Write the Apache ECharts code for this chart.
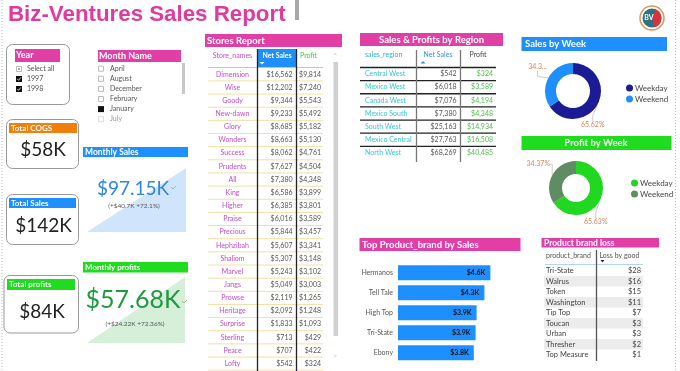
<!DOCTYPE html>
<html>
<head>
<meta charset="utf-8">
<script src="https://cdn.jsdelivr.net/npm/echarts@6/dist/echarts.min.js"></script>
<style>
html, body { margin: 0; padding: 0; background: #fff; }
#main { width: 680px; height: 371px; }
</style>
</head>
<body>
<div id="main"></div>
<script>
// ---- data ----
var years = ['Select all', '1997', '1998'];
var yearState = [2, 1, 1];            // 2 = partial, 1 = checked
var months = ['April', 'August', 'December', 'February', 'January', 'July'];
var monthState = [0, 0, 0, 0, 1, 0];

var totalCogs = 58, totalSales = 142, totalProfit = 84;       // $K
var monthlySales = 97.15, monthlySalesDelta = 40.7, monthlySalesPct = 72.1;
var monthlyProfit = 57.68, monthlyProfitDelta = 24.22, monthlyProfitPct = 72.36;

var storeNames = ['Dimension', 'Wise', 'Goody', 'New-dawn', 'Glory', 'Wonders', 'Success', 'Prudents',
    'All', 'King', 'Higher', 'Praise', 'Precious', 'Hephzibah', 'Shaliom', 'Marvel', 'Jangs',
    'Prowse', 'Heritage', 'Surprise', 'Sterling', 'Peace', 'Lofty'];
var storeSales = [16562, 12202, 9344, 9233, 8685, 8663, 8062, 7627, 7380, 6586, 6385, 6016, 5844,
    5607, 5307, 5243, 5049, 2119, 2092, 1833, 713, 707, 542];
var storeProfit = [9814, 7240, 5543, 5492, 5182, 5130, 4761, 4504, 4348, 3899, 3801, 3589, 3457,
    3341, 3148, 3102, 3003, 1265, 1248, 1093, 429, 422, 324];

var regions = ['Central West', 'Mexico West', 'Canada West', 'Mexico South', 'South West', 'Mexico Central', 'North West'];
var regionSales = [542, 6018, 7076, 7380, 25163, 27763, 68269];
var regionProfit = [324, 3589, 4194, 4348, 14934, 16508, 40485];

var weekNames = ['Weekday', 'Weekend'];
var salesWeek = [65.62, 34.38];
var profitWeek = [65.63, 34.37];

var brands = ['Hermanos', 'Tell Tale', 'High Top', 'Tri-State', 'Ebony'];
var brandSales = [4620, 4320, 3930, 3880, 3790];

var lossBrands = ['Tri-State', 'Walrus', 'Token', 'Washington', 'Tip Top', 'Toucan', 'Urban', 'Thresher', 'Top Measure'];
var lossValues = [28, 16, 15, 11, 7, 3, 3, 2, 1];

// ---- helpers ----
var PINK = '#e23fa6', BLUE = '#1e8fff', GREEN = '#1fdc1f', ORANGE = '#f17f0c';
var salesColors = ['#1b1b93', BLUE];
var profitColors = ['#1fd81f', '#5f8c62'];
var F = 'Lato, "Open Sans", sans-serif';
var g = [];
function rect(x, y, w, h, fill, stroke, r) {
    g.push({ type: 'rect', silent: true, shape: { x: x, y: y, width: w, height: h, r: r || 0 },
        style: { fill: fill || 'none', stroke: stroke || null, lineWidth: 1 } });
}
function txt(x, y, s, size, color, align, weight) {
    g.push({ type: 'text', silent: true, x: x, y: y,
        style: { text: s, font: (weight || 'normal') + ' ' + size + 'px ' + F, fill: color,
            align: align || 'left', verticalAlign: 'middle',
            textAlign: align || 'left', textVerticalAlign: 'middle' } });
}
function line(x1, y1, x2, y2, color, w, dash) {
    g.push({ type: 'line', silent: true, shape: { x1: x1, y1: y1, x2: x2, y2: y2 },
        style: { stroke: color, lineWidth: w || 1, lineDash: dash || null } });
}
function poly(pts, fill) {
    g.push({ type: 'polygon', silent: true, shape: { points: pts }, style: { fill: fill } });
}
function money(n) { return '$' + n.toLocaleString('en-US'); }

// page frame
line(2, 0, 2, 371, '#bbb', 1, [1, 2]);
line(675.5, 0, 675.5, 371, '#bbb', 1, [1, 2]);
g.push({ type: 'text', silent: true, x: 8, y: 14.5,
    style: { text: 'Biz-Ventures Sales Report', font: 'bold 22.3px "Liberation Sans", Arial, sans-serif',
        fill: '#e03a9f', verticalAlign: 'middle', textVerticalAlign: 'middle' } });
rect(295, 0, 4, 20, '#a8a8a8');

// logo
g.push({ type: 'circle', silent: true, shape: { cx: 652, cy: 18, r: 12 }, style: { fill: '#fff', stroke: '#e0955a', lineWidth: 1.5 } });
g.push({ type: 'circle', silent: true, shape: { cx: 652, cy: 18, r: 9.5 }, style: { fill: '#2b7383' } });
g.push({ type: 'sector', silent: true, shape: { cx: 652, cy: 18, r: 9.5, startAngle: -1.2, endAngle: 1.3 }, style: { fill: '#d8333a' } });
txt(649, 18, 'BV', 7, '#fff', 'center', 'bold');

// year slicer
rect(6.5, 44.5, 63, 60, '#fff', '#999', 6);
rect(15, 49, 45, 13, PINK);
txt(16, 55.5, 'Year', 9, '#fff', 'left', 'bold');
years.forEach(function (y, i) {
    var cy = 69 + i * 10;
    if (yearState[i] === 2) {
        rect(16.5, cy - 2.5, 5, 5, '#fff', '#bbb');
        rect(18, cy - 1, 2, 2, '#aaa');
    } else {
        rect(16, cy - 3, 6, 6, '#111');
        g.push({ type: 'polyline', silent: true, shape: { points: [[17.3, cy], [18.6, cy + 1.3], [20.8, cy - 1.5]] }, style: { stroke: '#fff', lineWidth: 0.8 } });
    }
    txt(27, cy, y, 7, '#555');
});

// month slicer
rect(98, 50, 83, 12, PINK);
txt(99, 56, 'Month Name', 9, '#fff', 'left', 'bold');
rect(182, 63, 3, 31, '#c8c8c8');
months.forEach(function (m, i) {
    var cy = 68.7 + i * 10.1;
    if (monthState[i]) rect(98, cy - 3, 6, 6, '#111');
    else rect(98.5, cy - 2.5, 5, 5, '#fff', i === 5 ? '#ddd' : '#bbb');
    txt(110, cy, m, 7, i === 5 ? '#999' : '#555');
});

// KPI cards
rect(6.5, 119.5, 72, 49, '#fff', '#999', 6);
rect(9, 123, 68, 10, ORANGE);
txt(11, 128, 'Total COGS', 8, '#fff', 'left', 'bold');
txt(43, 150, '$' + totalCogs + 'K', 19, '#222', 'center');

rect(6.5, 194.5, 72, 50, '#fff', '#999', 6);
rect(9, 198, 67, 10, BLUE);
txt(11, 203, 'Total Sales', 8, '#fff', 'left', 'bold');
txt(43.5, 226, '$' + totalSales + 'K', 19, '#222', 'center');

rect(4, 275.5, 74.5, 57.5, '#fff', '#999', 6);
rect(7, 279, 68, 11, GREEN);
txt(9, 284.5, 'Total profits', 8, '#fff', 'left', 'bold');
txt(42, 312, '$' + totalProfit + 'K', 19, '#222', 'center');

// monthly sales card
rect(83, 147, 105, 10, BLUE);
txt(85, 152, 'Monthly Sales', 8.5, '#fff', 'left', 'bold');
poly([[87, 232], [186, 168], [186, 232]], '#d0e5fb');
txt(133, 189, '$' + monthlySales.toFixed(2) + 'K', 19, '#2f86de', 'center');
g.push({ type: 'polyline', silent: true, shape: { points: [[171, 187], [173, 189], [176, 186]] }, style: { stroke: '#7fa9d8', lineWidth: 0.8 } });
txt(134, 205.5, '(+$' + monthlySalesDelta + 'K +' + monthlySalesPct + '%)', 6.5, '#555', 'center');

// monthly profits card
rect(83, 262, 105, 10.5, GREEN);
txt(85, 267, 'Monthly profits', 8, '#fff', 'left', 'bold');
poly([[87, 343], [185, 277], [185, 343]], '#d5efd9');
txt(133, 300, '$' + monthlyProfit.toFixed(2) + 'K', 25, '#1f9a40', 'center');
g.push({ type: 'polyline', silent: true, shape: { points: [[182, 301], [184, 303], [187, 300]] }, style: { stroke: '#7fb38a', lineWidth: 0.8 } });
txt(135, 324, '(+$' + monthlyProfitDelta + 'K +' + monthlyProfitPct + '%)', 6.5, '#555', 'center');

// stores report table
rect(205, 34, 137, 13, PINK);
txt(207, 40.5, 'Stores Report', 9.5, '#fff', 'left', 'bold');
rect(257.5, 49, 39, 18, BLUE);
txt(232.5, 55.5, 'Store_names', 7, '#c24cc8', 'center');
txt(277, 55.5, 'Net Sales', 7, '#fff', 'center', 'bold');
poly([[259.5, 62], [264.5, 62], [262, 64.5]], '#fff');
txt(308.5, 55.5, 'Profit', 7, '#46c046', 'center');
line(208, 67.5, 323, 67.5, '#a9cdf2', 1);
rect(333.5, 62, 4.5, 274, '#d0d0d0');
txt(335.5, 55, '˄', 6, '#aaa', 'center');
txt(335.5, 357, '˅', 6, '#aaa', 'center');
storeNames.forEach(function (s, i) {
    var cy = 74.3 + i * 13.15;
    txt(232.5, cy, s, 7, '#c24cc8', 'center');
    txt(292.5, cy, money(storeSales[i]), 7, '#555', 'right');
    txt(321, cy, money(storeProfit[i]), 7, '#555', 'right');
    line(208, cy + 6.6, 323, cy + 6.6, '#efe2a6', 1);
});
line(257.5, 49, 257.5, 371, '#222', 1.3);
line(296.5, 49, 296.5, 371, '#222', 1.3);

// region table
rect(360, 33, 143, 13, PINK);
txt(431.5, 39.5, 'Sales & Profits by Region', 9.5, '#fff', 'center', 'bold');
txt(365, 55, 'sales_region', 7, '#2bb3c8');
txt(438, 55, 'Net Sales', 7, '#3a8ee6', 'center');
poly([[420.5, 63.5], [425.5, 63.5], [423, 61]], '#3a8ee6');
txt(478, 55, 'Profit', 7, '#444', 'center');
line(360, 67.5, 496, 67.5, '#222', 1.3);
regions.forEach(function (r, i) {
    var cy = 74 + i * 13.15;
    txt(365, cy, r, 7, '#3cc4d2');
    txt(456.5, cy, money(regionSales[i]), 7, '#555', 'right');
    txt(493, cy, money(regionProfit[i]), 7, '#4cc04c', 'right');
    if (i < regions.length - 1) line(360, cy + 6.6, 496, cy + 6.6, '#222', 1.3);
});
line(416.5, 50, 416.5, 162, '#777', 1.3);
line(460.5, 50, 460.5, 162, '#777', 1.3);

// week chart headers
rect(521.5, 37, 145.5, 14, BLUE);
txt(525, 44, 'Sales by Week', 9.5, '#fff', 'left', 'bold');
rect(521.5, 136, 150, 14, GREEN);
txt(596, 143, 'Profit by Week', 9.5, '#fff', 'center', 'bold');

// top brand header
rect(359.5, 238, 161, 13, PINK);
txt(362, 244.5, 'Top Product_brand by Sales', 9.5, '#fff', 'left', 'bold');

// brand loss table
rect(541.5, 238, 117.5, 9.5, PINK);
txt(544, 242.8, 'Product brand loss', 8.5, '#fff', 'left', 'bold');
txt(546, 256, 'product_brand', 7, '#555');
txt(599.5, 256, 'Loss by good', 7, '#555');
poly([[600.5, 260], [604.5, 260], [602.5, 262.5]], '#222');
line(545, 264.5, 643, 264.5, '#b5d3f2', 1);
lossBrands.forEach(function (b, i) {
    var cy = 270.7 + i * 10.5;
    if (i % 2 === 1) rect(544, cy - 5.2, 99, 10.4, '#ececec');
    txt(546, cy, b, 7.5, '#444');
    txt(641, cy, '$' + lossValues[i], 7.5, '#444', 'right');
});
line(596.5, 250, 596.5, 361, '#555', 1.3);

// ---- chart ----
var dom = document.getElementById('main');
var myChart = echarts.init(dom);

var salesCenter = [573, 91], profitCenter = [576, 188];
var pieLabel = {
    color: '#d4875a', fontSize: 7, fontFamily: F,
    formatter: function (p) { return p.percent.toFixed(2) + '%'; }
};
var pieLine = { length: 4, length2: 6, lineStyle: { color: '#ccc', width: 1 } };
// Power BI style label spots, relative to each donut centre
function labelSpot(c) {
    return function (p) {
        return p.dataIndex === 0
            ? { x: c[0] + 8, y: c[1] + 34, align: 'left', verticalAlign: 'middle' }
            : { x: c[0] - 26, y: c[1] - 24, align: 'right', verticalAlign: 'middle' };
    };
}

option = {
    animation: false,
    graphic: { elements: g },
    legend: [
        {
            orient: 'vertical', left: 621, top: 79, itemWidth: 7, itemHeight: 7, itemGap: 3,
            icon: 'circle', textStyle: { fontSize: 8, color: '#444', fontFamily: F, padding: [0, 0, 0, -3] },
            data: weekNames.map(function (n, i) { return { name: n, itemStyle: { color: salesColors[i] } }; }),
            selectedMode: false
        },
        {
            orient: 'vertical', left: 626, top: 174, itemWidth: 7, itemHeight: 7, itemGap: 3,
            icon: 'circle', textStyle: { fontSize: 8, color: '#444', fontFamily: F, padding: [0, 0, 0, -3] },
            data: weekNames.map(function (n, i) { return { name: n, itemStyle: { color: profitColors[i] } }; }),
            selectedMode: false
        }
    ],
    grid: { left: 398, top: 262.7, width: 100, height: 100 },
    xAxis: { type: 'value', min: 0, max: 5000, show: false },
    yAxis: {
        type: 'category', data: brands, inverse: true,
        axisLine: { show: false }, axisTick: { show: false },
        axisLabel: { fontSize: 7, color: '#555', fontFamily: F, margin: 5 }
    },
    series: [
        {
            type: 'pie', name: 'Sales by Week', center: salesCenter, radius: [17, 28],
            color: salesColors,
            label: pieLabel, labelLine: pieLine,
            labelLayout: labelSpot(salesCenter),
            data: weekNames.map(function (n, i) {
                var d = { name: n, value: salesWeek[i], itemStyle: { color: salesColors[i] } };
                if (i === 1) d.label = { width: 24, overflow: 'truncate', ellipsis: '...' };
                return d;
            })
        },
        {
            type: 'pie', name: 'Profit by Week', center: profitCenter, radius: [14, 27],
            color: profitColors,
            label: pieLabel, labelLine: pieLine,
            labelLayout: labelSpot(profitCenter),
            data: weekNames.map(function (n, i) {
                return { name: n, value: profitWeek[i], itemStyle: { color: profitColors[i] } };
            })
        },
        {
            type: 'bar', name: 'Sales', data: brandSales, barWidth: 15,
            itemStyle: { color: BLUE },
            label: {
                show: true, position: 'insideRight', fontSize: 7, fontWeight: 'bold', color: '#111', fontFamily: F,
                formatter: function (p) { return '$' + (p.value / 1000).toFixed(1) + 'K'; }
            }
        }
    ]
};

if (option && typeof option === "object") {
    myChart.setOption(option, true);
}
</script>
</body>
</html>
